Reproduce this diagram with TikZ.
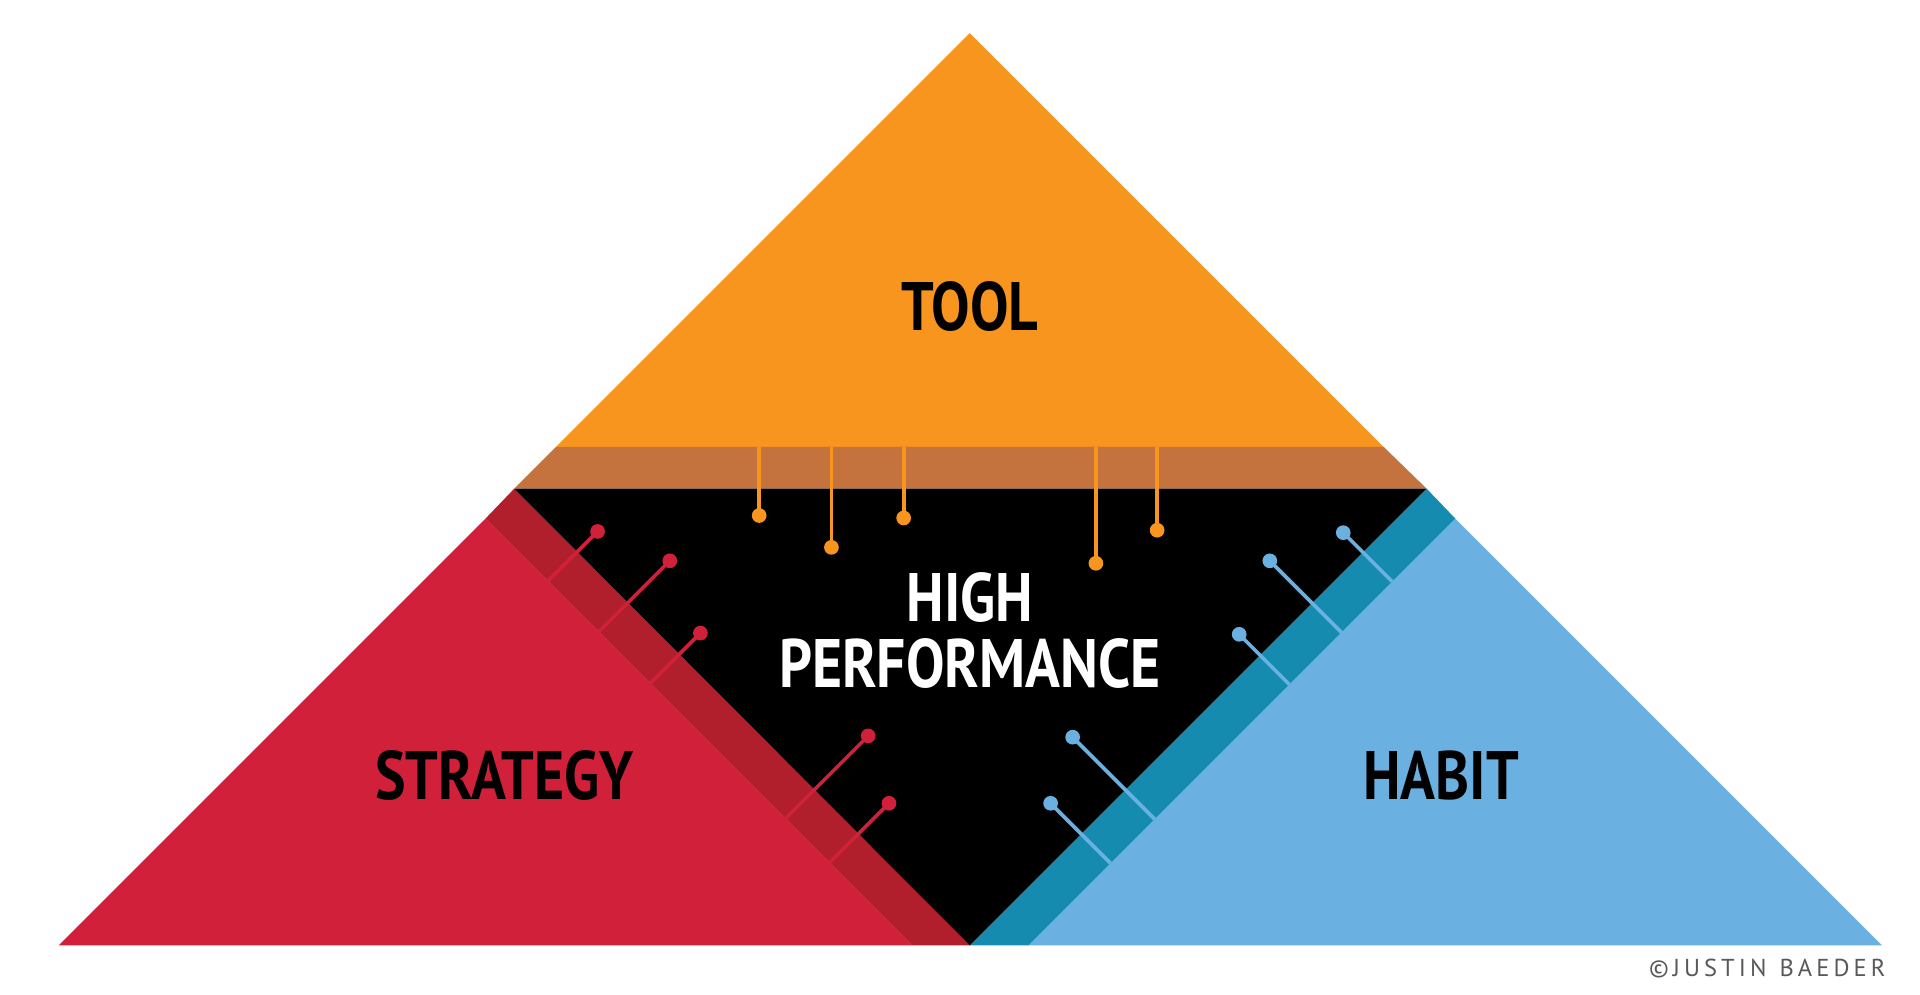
\documentclass[tikz,border=0pt]{standalone}
\usepackage{fontspec}
\setmainfont{PT Sans}
\definecolor{toolorange}{HTML}{F7951F}
\definecolor{bandbrown}{HTML}{C4733F}
\definecolor{stratred}{HTML}{D0203A}
\definecolor{stripred}{HTML}{B01F2B}
\definecolor{habitblue}{HTML}{6AB1E1}
\definecolor{stripblue}{HTML}{158BB0}
\newcommand{\cond}[1]{\scalebox{0.84}[1]{#1}}
\tikzset{
    label/.style={font=\fontsize{56}{52}\selectfont\bfseries, align=center, inner sep=0pt},
    pin/.style={circle, fill=#1, inner sep=0pt, minimum size=12pt},
    pinline/.style={draw=#1, line width=3pt}
}
\begin{document}
\begin{tikzpicture}[x=1pt,y=-1pt]
    \useasboundingbox (0,0) rectangle (1568,812);
    \fill[white] (0,0) rectangle (1568,812);
    % big triangle parts
    \fill[toolorange] (792,27) -- (1130,365) -- (454,365) -- cycle;
    \fill[bandbrown] (454,365) -- (1130,365) -- (1165,399) -- (420,399) -- cycle;
    \fill[stratred] (48,772) -- (396.5,423.5) -- (745,772) -- cycle;
    \fill[stripred] (420,399) -- (792,772) -- (745,772) -- (396.5,423.5) -- cycle;
    \fill[habitblue] (1188.5,423.5) -- (1537,772) -- (840,772) -- cycle;
    \fill[stripblue] (1165,399) -- (1188.5,423.5) -- (840,772) -- (792,772) -- cycle;
    \fill[black] (420,399) -- (1165,399) -- (792,772) -- cycle;
    % orange pins
    \foreach \x/\y [count=\i] in {620/421,679/447,738/423,895/460,945/433}{
        \coordinate (ot\i) at (\x,365);
        \node[pin=toolorange] (op\i) at (\x,\y) {};
        \draw[pinline=toolorange] (ot\i) -- (op\i.center);
    }
    % red pins
    \foreach \x/\y [count=\i] in {488/434,547/458,572/517,709/601,726/656}{
        \pgfmathsetmacro{\t}{(\x-\y+27)/2}
        \coordinate (rt\i) at (\x-\t,\y+\t);
        \node[pin=stratred] (rp\i) at (\x,\y) {};
        \draw[pinline=stratred] (rt\i) -- (rp\i.center);
    }
    % blue pins
    \foreach \x/\y [count=\i] in {1097/435,1037/458,1012/518,876/602,858/656}{
        \pgfmathsetmacro{\t}{(1612-\x-\y)/2}
        \coordinate (bt\i) at (\x+\t,\y+\t);
        \node[pin=habitblue] (bp\i) at (\x,\y) {};
        \draw[pinline=habitblue] (bt\i) -- (bp\i.center);
    }
    % labels
    \node[label] (tool) at (792,250) {\cond{TOOL}};
    \node[label, text=white] (high) at (792,515) {\cond{HIGH}\\[2pt]\cond{PERFORMANCE}};
    \node[label] (strategy) at (412,633) {\cond{STRATEGY}};
    \node[label] (habit) at (1177,633) {\cond{HABIT}};
    \node[font=\fontsize{20}{20}\selectfont, text=black!65, anchor=east, inner sep=0pt] (copy) at (1540,791) {©\,J\,U\,S\,T\,I\,N\ \ B\,A\,E\,D\,E\,R};
\end{tikzpicture}
\end{document}
